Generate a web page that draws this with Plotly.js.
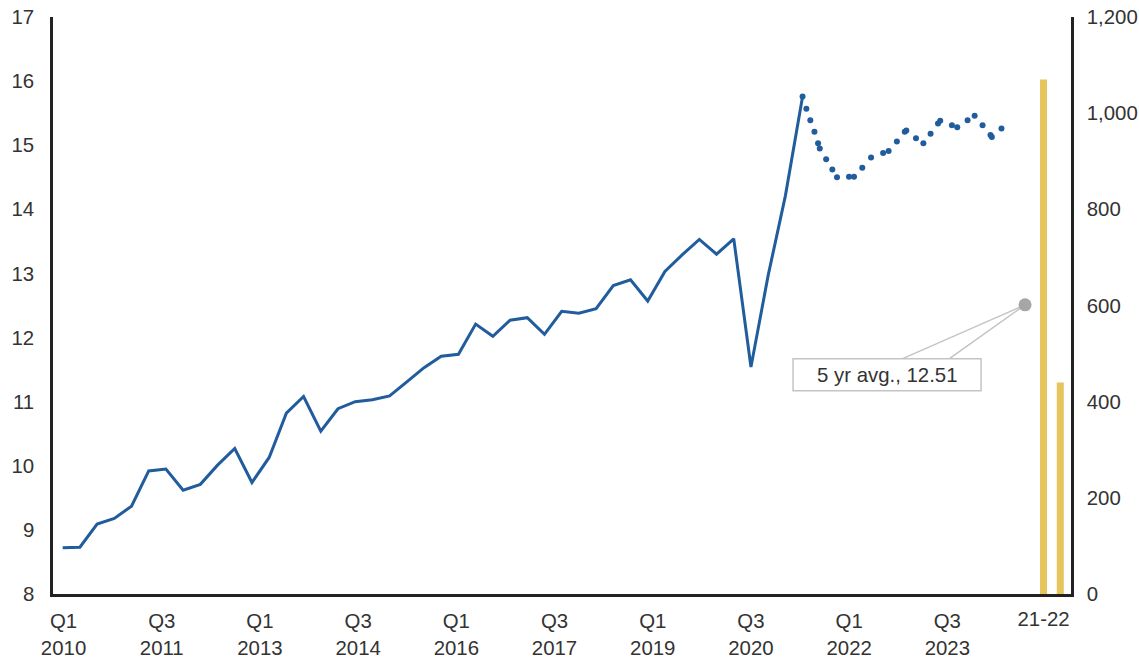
<!DOCTYPE html>
<html>
<head>
<meta charset="utf-8">
<script src="https://cdn.plot.ly/plotly-3.0.1.min.js"></script>
<style>
  html, body { margin: 0; padding: 0; background: #ffffff; }
  #chart { width: 1139px; height: 659px; }
</style>
</head>
<body>
<div id="chart"></div>
<script>
// Period labels on the bottom axis (every sixth quarter)
const tickLabels = ['Q1<br>2010', 'Q3<br>2011', 'Q1<br>2013', 'Q3<br>2014', 'Q1<br>2016',
                    'Q3<br>2017', 'Q1<br>2019', 'Q3<br>2020', 'Q1<br>2022', 'Q3<br>2023'];

// Quarterly series (solid line), left axis
const lineValues = [8.72, 8.73, 9.09, 9.18, 9.37, 9.92, 9.95, 9.62, 9.71, 10.01,
                    10.27, 9.74, 10.13, 10.82, 11.08, 10.54, 10.89, 11.00, 11.03, 11.09,
                    11.31, 11.53, 11.71, 11.74, 12.21, 12.02, 12.27, 12.31, 12.05, 12.41,
                    12.38, 12.45, 12.81, 12.90, 12.57, 13.03, 13.29, 13.53, 13.30, 13.54,
                    11.54, 12.97, 14.21, 15.76];

// Recent readings (dotted), positioned on the same period scale
const dotPeriods = [43.0, 43.22, 43.45, 43.69, 43.90, 44.0, 44.37, 44.73, 45.0, 45.70,
                    45.99, 46.47, 46.98, 47.68, 48.0, 48.48, 48.94, 49.03, 49.59, 50.02,
                    50.44, 50.87, 51.0, 51.68, 51.99, 52.59, 53.0, 53.46, 53.92, 54.0, 54.56];
const dotValues = [15.76, 15.57, 15.39, 15.21, 15.03, 14.95, 14.78, 14.62, 14.50, 14.51,
                   14.51, 14.65, 14.81, 14.88, 14.91, 15.06, 15.21, 15.23, 15.11, 15.03,
                   15.18, 15.34, 15.38, 15.31, 15.28, 15.39, 15.46, 15.31, 15.16, 15.13, 15.26];

// Annual bars, right axis
const barCategories = ['2021', '2022'];
const barValues = [1070, 440];
const barTickLabel = '21-22';

// Five-year average marker
const avgValue = 12.51;
const avgPeriod = 55.93;

// Label spacing relative to the plotted periods
const TICK_OFFSET = 0.05;
const TICK_STEP = 5.707;

const BLUE = '#215c9c';
const GOLD = '#e6c45e';
const TEXT = '#333333';
const AXIS = '#222222';
const FONT = 'Liberation Sans, Arial, Helvetica, sans-serif';
const FS = 20.4;

const traces = [
  {
    type: 'scatter', mode: 'lines',
    x: lineValues.map((_, i) => i), y: lineValues,
    xaxis: 'x', yaxis: 'y',
    line: { color: BLUE, width: 3 },
    hoverinfo: 'skip', showlegend: false
  },
  {
    type: 'scatter', mode: 'markers',
    x: dotPeriods, y: dotValues,
    xaxis: 'x', yaxis: 'y',
    marker: { color: BLUE, size: 6 },
    hoverinfo: 'skip', showlegend: false
  },
  {
    type: 'scatter', mode: 'markers',
    x: [avgPeriod], y: [avgValue],
    xaxis: 'x', yaxis: 'y',
    marker: { color: '#a6a6a6', size: 13 },
    hoverinfo: 'skip', showlegend: false
  },
  {
    type: 'bar',
    x: barCategories, y: barValues,
    xaxis: 'x2', yaxis: 'y2',
    width: 0.42,
    marker: { color: GOLD },
    hoverinfo: 'skip', showlegend: false
  }
];

// Callout pieces anchored on the average marker, offsets in pixels
const calloutBase = {
  xref: 'x', yref: 'y',
  xsizemode: 'pixel', ysizemode: 'pixel',
  xanchor: avgPeriod, yanchor: avgValue
};
const shapes = [
  Object.assign({}, calloutBase, { type: 'line', x0: 0, y0: 0, x1: -123, y1: -54,
    line: { color: '#c4c4c4', width: 1.5 }, layer: 'below' }),
  Object.assign({}, calloutBase, { type: 'line', x0: 0, y0: 0, x1: -76, y1: -54,
    line: { color: '#c4c4c4', width: 1.5 }, layer: 'below' }),
  Object.assign({}, calloutBase, { type: 'rect', x0: -232, y0: -54, x1: -44, y1: -86,
    fillcolor: '#ffffff', line: { color: '#c4c4c4', width: 1.5 }, layer: 'below' })
];

const layout = {
  width: 1139, height: 659,
  margin: { l: 53, r: 68, t: 17, b: 65, pad: 0 },
  paper_bgcolor: '#ffffff', plot_bgcolor: 'rgba(0,0,0,0)',
  font: { family: FONT, size: FS, color: TEXT },
  showlegend: false,
  xaxis: {
    type: 'linear',
    range: [-0.563, 58.60],
    tickmode: 'array',
    tickvals: tickLabels.map((_, k) => TICK_OFFSET + k * TICK_STEP),
    ticktext: tickLabels,
    ticks: 'outside', ticklen: 7, tickcolor: 'rgba(0,0,0,0)',
    showline: true, linecolor: AXIS, linewidth: 2.7,
    showgrid: false, zeroline: false,
    tickfont: { family: FONT, size: FS, color: TEXT }
  },
  xaxis2: {
    type: 'category',
    overlaying: 'x', anchor: 'y', side: 'bottom',
    range: [-59.02, 1.637],
    tickmode: 'array', tickvals: [barCategories[0]], ticktext: [barTickLabel],
    ticks: 'outside', ticklen: 7, tickcolor: 'rgba(0,0,0,0)',
    showline: false, showgrid: false, zeroline: false,
    tickfont: { family: FONT, size: FS, color: TEXT }
  },
  yaxis: {
    range: [8, 17],
    tickmode: 'linear', tick0: 8, dtick: 1,
    ticks: 'outside', ticklen: 12, tickcolor: 'rgba(0,0,0,0)',
    showline: true, linecolor: AXIS, linewidth: 2.7,
    showgrid: false, zeroline: false,
    tickfont: { family: FONT, size: FS, color: TEXT }
  },
  yaxis2: {
    overlaying: 'y', side: 'right', anchor: 'x',
    range: [0, 1200],
    tickmode: 'linear', tick0: 0, dtick: 200,
    tickformat: ',d',
    ticks: 'outside', ticklen: 9, tickcolor: 'rgba(0,0,0,0)',
    showline: true, linecolor: AXIS, linewidth: 2.7,
    showgrid: false, zeroline: false,
    tickfont: { family: FONT, size: FS, color: TEXT }
  },
  shapes: shapes,
  annotations: [
    {
      xref: 'x', yref: 'y', x: avgPeriod, y: avgValue,
      xshift: -138, yshift: -70,
      text: '5 yr avg., ' + avgValue.toFixed(2),
      showarrow: false,
      xanchor: 'center', yanchor: 'middle',
      font: { family: FONT, size: FS, color: TEXT }
    }
  ]
};

Plotly.newPlot('chart', traces, layout, { staticPlot: true, displayModeBar: false });
</script>
</body>
</html>
